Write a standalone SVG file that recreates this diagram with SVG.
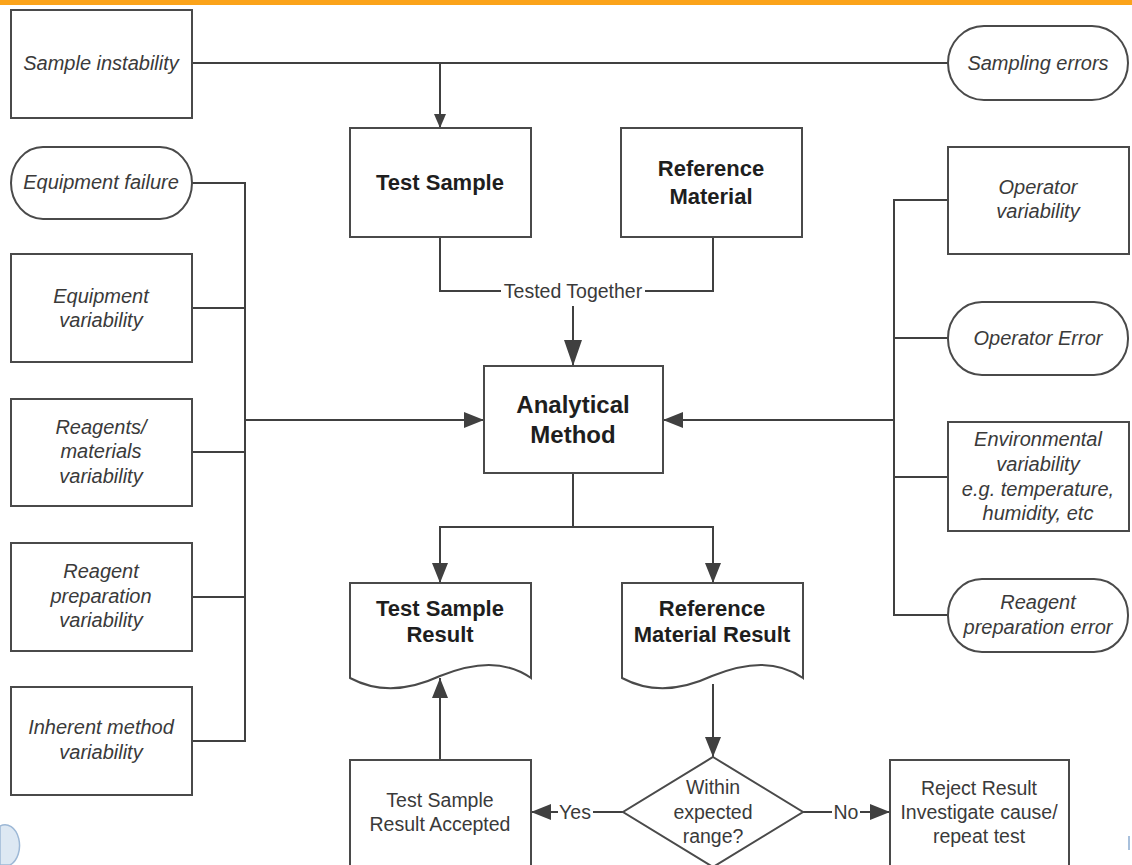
<svg xmlns="http://www.w3.org/2000/svg" width="1132" height="865" viewBox="0 0 1132 865">
<style>
.box{fill:#fff;stroke:#4a4a4a;stroke-width:2}
.ln{fill:none;stroke:#404040;stroke-width:2}
.it{font-family:"Liberation Sans",Arial,sans-serif;font-style:italic;font-size:20px;fill:#3a3a3a;text-anchor:middle}
.bd{font-family:"Liberation Sans",Arial,sans-serif;font-weight:bold;font-size:22px;fill:#1e1e1e;text-anchor:middle}
.rg{font-family:"Liberation Sans",Arial,sans-serif;font-size:19.5px;fill:#3a3a3a;text-anchor:middle}
</style>
<defs>
<marker id="aS" markerUnits="userSpaceOnUse" markerWidth="14" markerHeight="12" refX="14" refY="6" orient="auto"><path d="M0,0 L14,6 L0,12 Z" fill="#404040"/></marker>
<marker id="aM" markerUnits="userSpaceOnUse" markerWidth="20" markerHeight="16" refX="20" refY="8" orient="auto"><path d="M0,0 L20,8 L0,16 Z" fill="#404040"/></marker>
<marker id="aL" markerUnits="userSpaceOnUse" markerWidth="26" markerHeight="18" refX="26" refY="9" orient="auto"><path d="M0,0 L26,9 L0,18 Z" fill="#404040"/></marker>
</defs>
<rect x="0" y="0" width="1132" height="5" fill="#FBA31A"/>

<g id="connectors">
<path class="ln" d="M192,63 H948"/>
<path class="ln" d="M440,63 V128" marker-end="url(#aS)"/>
<path class="ln" d="M440,237 V291 H501 M645,291 H713 V237"/>
<path class="ln" d="M573,306 V366" marker-end="url(#aL)"/>
<path class="ln" d="M192,183 H245 V741 H192 M192,308 H245 M192,452 H245 M192,597 H245"/>
<path class="ln" d="M245,420 H484" marker-end="url(#aM)"/>
<path class="ln" d="M948,200 H894 V615 H948 M948,338 H894 M948,477 H894"/>
<path class="ln" d="M894,420 H663" marker-end="url(#aM)"/>
<path class="ln" d="M573,473 V527 H440 V583" marker-end="url(#aM)"/>
<path class="ln" d="M573,527 H713 V583" marker-end="url(#aM)"/>
<path class="ln" d="M713,684 V757" marker-end="url(#aM)"/>
<path class="ln" d="M440,760 V678" marker-end="url(#aM)"/>
<path class="ln" d="M623,812 H593 M558,812 H531" marker-end="url(#aM)"/>
<path class="ln" d="M803,812 H832 M860,812 H890" marker-end="url(#aM)"/>
<text class="rg" x="573" y="298">Tested Together</text>
<text class="rg" x="575" y="819">Yes</text>
<text class="rg" x="846" y="819">No</text>
</g>

<g id="sample-instability"><rect class="box" x="11" y="10" width="181" height="108"/><text class="it" x="101" y="70">Sample instability</text></g>
<g id="sampling-errors"><rect class="box" x="948" y="26" width="180" height="74" rx="36" ry="37"/><text class="it" x="1038" y="70">Sampling errors</text></g>
<g id="test-sample"><rect class="box" x="350" y="128" width="181" height="109"/><text class="bd" x="440" y="190">Test Sample</text></g>
<g id="reference-material"><rect class="box" x="621" y="128" width="181" height="109"/><text class="bd" x="711" y="176">Reference</text><text class="bd" x="711" y="204">Material</text></g>
<g id="analytical-method"><rect class="box" x="484" y="366" width="179" height="107"/><text class="bd" style="font-size:24px" x="573" y="413">Analytical</text><text class="bd" style="font-size:24px" x="573" y="443">Method</text></g>

<g id="equipment-failure"><rect class="box" x="11" y="147" width="181" height="72" rx="32" ry="36"/><text class="it" x="101" y="189">Equipment failure</text></g>
<g id="equipment-variability"><rect class="box" x="11" y="254" width="181" height="108"/><text class="it" x="101" y="303">Equipment</text><text class="it" x="101" y="327">variability</text></g>
<g id="reagents-variability"><rect class="box" x="11" y="399" width="181" height="107"/><text class="it" x="101" y="434">Reagents/</text><text class="it" x="101" y="458">materials</text><text class="it" x="101" y="483">variability</text></g>
<g id="reagent-preparation-variability"><rect class="box" x="11" y="543" width="181" height="108"/><text class="it" x="101" y="578">Reagent</text><text class="it" x="101" y="603">preparation</text><text class="it" x="101" y="627">variability</text></g>
<g id="inherent-method-variability"><rect class="box" x="11" y="687" width="181" height="108"/><text class="it" x="101" y="734">Inherent method</text><text class="it" x="101" y="759">variability</text></g>

<g id="operator-variability"><rect class="box" x="948" y="147" width="181" height="107"/><text class="it" x="1038" y="194">Operator</text><text class="it" x="1038" y="218">variability</text></g>
<g id="operator-error"><rect class="box" x="948" y="302" width="180" height="73" rx="34" ry="36"/><text class="it" x="1038" y="345">Operator Error</text></g>
<g id="environmental-variability"><rect class="box" x="948" y="422" width="181" height="109"/><text class="it" x="1038" y="446">Environmental</text><text class="it" x="1038" y="471">variability</text><text class="it" x="1038" y="496">e.g. temperature,</text><text class="it" x="1038" y="520">humidity, etc</text></g>
<g id="reagent-preparation-error"><rect class="box" x="948" y="579" width="180" height="73" rx="34" ry="36"/><text class="it" x="1038" y="609">Reagent</text><text class="it" x="1038" y="634">preparation error</text></g>

<g id="test-sample-result"><path class="box" d="M350,583 H531 V678 C505,660 475,662 440,676 C410,690 380,694 350,678 Z"/><text class="bd" x="440" y="616">Test Sample</text><text class="bd" x="440" y="642">Result</text></g>
<g id="reference-material-result"><path class="box" d="M622,583 H803 V678 C777,660 747,662 712,676 C682,690 652,694 622,678 Z"/><text class="bd" x="712" y="616">Reference</text><text class="bd" x="712" y="642">Material Result</text></g>
<g id="decision"><path class="box" d="M713,757 L803,812 L713,867 L623,812 Z"/><text class="rg" x="713" y="794">Within</text><text class="rg" x="713" y="819">expected</text><text class="rg" x="713" y="843">range?</text></g>
<g id="accepted"><rect class="box" x="350" y="760" width="181" height="112"/><text class="rg" x="440" y="807">Test Sample</text><text class="rg" x="440" y="831">Result Accepted</text></g>
<g id="reject"><rect class="box" x="890" y="760" width="179" height="112"/><text class="rg" x="979" y="795">Reject Result</text><text class="rg" x="979" y="819">Investigate cause/</text><text class="rg" x="979" y="843">repeat test</text></g>

<path d="M0,826 A14,20 0 0 1 10,865 L0,865 Z" fill="#dde8f3" stroke="#9db8d6" stroke-width="1.5"/>
<rect x="1128" y="836" width="2" height="14" fill="#a8c0dc"/>
</svg>
